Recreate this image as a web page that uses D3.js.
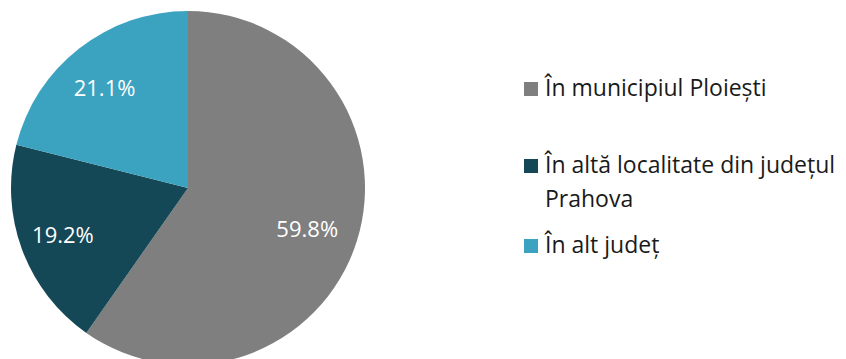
<!DOCTYPE html>
<html><head><meta charset="utf-8">
<script src="https://cdn.jsdelivr.net/npm/d3@7"></script>
<style>body{margin:0;background:#fff}svg{display:block}</style>
</head><body>
<svg id="c" width="846" height="359"></svg>
<script>
const categories = ["În municipiul Ploiești", "În altă localitate din județul Prahova", "În alt județ"];
const legendLines = [["În municipiul Ploiești"], ["În altă localitate din județul", "Prahova"], ["În alt județ"]];
const values = [59.8, 19.2, 21.1];
const labels = ["59.8%", "19.2%", "21.1%"];
const colors = ["#7F7F7F", "#154856", "#3BA2BF"];

const svg = d3.select("#c");
const cx = 188, cy = 188, r = 177;
const font = "'Open Sans', sans-serif";

const pie = d3.pie().sort(null).value(d => d)(values);
const arc = d3.arc().innerRadius(0).outerRadius(r);
const labelArc = d3.arc().innerRadius(r * 0.73).outerRadius(r * 0.73);

const g = svg.append("g").attr("transform", `translate(${cx},${cy})`);
g.selectAll("path").data(pie).join("path")
  .attr("d", arc).attr("fill", (d, i) => colors[i]);

g.selectAll("text").data(pie).join("text")
  .attr("transform", d => { const [x, y] = labelArc.centroid(d); return `translate(${x - 4},${y + 2})`; })
  .attr("text-anchor", "middle").attr("dy", "0.36em")
  .attr("fill", "#fff").attr("font-family", font).attr("font-size", 22)
  .text((d, i) => labels[i]);

const legY = [82, 159, 239];
const leg = svg.append("g");
categories.forEach((c, i) => {
  leg.append("rect").attr("x", 524).attr("y", legY[i]).attr("width", 14).attr("height", 14).attr("fill", colors[i]);
  const t = leg.append("text").attr("x", 545).attr("y", legY[i] + 14)
    .attr("font-family", font).attr("font-size", 23).attr("fill", "#1a1a1a");
  legendLines[i].forEach((l, j) => {
    t.append("tspan").attr("x", 545).attr("dy", j === 0 ? 0 : 34).text(l);
  });
});
</script>
</body></html>
